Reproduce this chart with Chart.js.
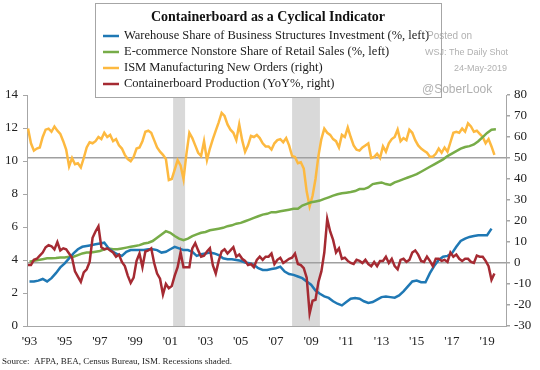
<!DOCTYPE html>
<html>
<head>
<meta charset="utf-8">
<script src="https://cdn.jsdelivr.net/npm/chart.js@4.4.1/dist/chart.umd.min.js"></script>
<style>
  html, body { margin: 0; padding: 0; background: #fff; }
  #wrap { width: 540px; height: 370px; }
</style>
</head>
<body>
<div id="wrap"><canvas id="chart" width="540" height="370"></canvas></div>
<script>
// bimonthly series start Dec 1992, quarterly series start Q1 1993
const bimonthlyStart = 1992 + 11 / 12;
const quarterlyStart = 1993;

const ismNewOrders = [64,
  57, 53.5, 54.5, 55, 60, 63.5,
  64, 62.5, 65, 63, 61.5, 58,
  54, 46, 50, 47, 47.5, 45.5,
  50, 55, 57.5, 57, 58, 60,
  59, 62, 60, 61, 58, 59,
  56, 54.5, 51.5, 49.5, 48.5, 50.5,
  54.5, 55, 58, 62.5, 63, 62,
  58.5, 55, 53, 51.5, 49.5, 39.5,
  40, 44.5, 49, 46.5, 40, 52,
  62, 59.5, 56, 52.5, 51, 58,
  49, 54.5, 59, 63, 67, 71.5,
  70, 66, 63.5, 62, 58.5, 66,
  58.5, 53, 56, 60.5, 60, 61,
  59.5, 57, 55.5, 55.5, 54, 57,
  58.5, 59, 57.5, 59.5, 56, 51,
  50.5, 47.5, 48, 45, 34, 27,
  32, 40, 51, 59, 64, 62,
  61, 59, 58, 55, 61, 60,
  64.5, 60, 56, 54, 53.5, 55,
  56, 57, 50, 50.5, 52, 50,
  55.5, 53, 57, 59, 60, 63.5,
  58, 59.5, 58.5, 63.5, 62, 58.5,
  56, 54.5, 53.5, 52.5, 50.6, 50.6,
  52, 54.5, 52.5, 55, 53, 57.5,
  62, 62.5, 62, 64, 62.5, 66.5,
  65, 62.5, 63, 61.5, 60, 57,
  59, 55.5, 51.5];

const containerboardYoY = [-1,
  -1, 1.5, 2, 3.5, 5, 7.5,
  8.5, 8, 6.5, 10, 6, 7,
  6.5, 4.5, 2.5, -4, -6.5, -9,
  -4.5, -3, 0.5, 12, 15, 17.5,
  7.5, 6.5, 7, 6, 5, 3,
  4, 0.5, -1.5, -6, -9.5, -7,
  1, 4.5, -2, 5.5, 6, 7,
  0, -5, -7.5, -15, -10, -12,
  -11, -6, -2, 5, -2, -2,
  -2, 7, 9.5, 6, 3, 3.5,
  5.5, 7, -1, -5, 1, 5.5,
  6.5, 4.5, 6, 7.5, 3, 4,
  2, 1, -1, -0.5, -2, 1.5,
  3, 1.5, 3, 3, 4.5, -0.5,
  1.5, 2.5, 0, 1, 2, 2.5,
  4.5, -0.5, -1, -2.5, -7, -24,
  -18, -17.5, -9, -4, 5, 21,
  15, 11, 5, 7, 2, 2.5,
  1, 0, -0.5, 1.5, 1, 0,
  1.5, -0.5, -1.5, 0.5, -1.5, 1,
  1, 3, 0, 2, -1.5, -3,
  1.5, 2, 0.5, 1.5, 5, 6,
  4, 1, 0.5, 3, 1, -1.5,
  2, 2, 1, 1.5, 0.5, 5,
  3, 4, 2, 1, 2, 2,
  0.5, 0, 3.5, 3, 3, 1,
  -1.5, -8, -5];

const warehouseShare = [
  2.7, 2.7, 2.75, 2.85,
  2.7, 2.9, 3.2, 3.55,
  3.8, 4.1, 4.4, 4.65,
  4.8, 4.85, 4.9, 4.95,
  5.0, 5.05, 4.7, 4.5,
  4.35, 4.25, 4.5, 4.6,
  4.6, 4.6, 4.6, 4.65,
  4.65, 4.6, 4.45, 4.5,
  4.65, 4.8, 4.7, 4.6,
  4.6, 4.5, 4.25, 4.35,
  4.4, 4.45, 4.4, 4.3,
  4.1, 4.05, 4.05, 4.0,
  3.95, 3.85, 3.8, 3.7,
  3.5, 3.4, 3.4, 3.45,
  3.5, 3.6, 3.3, 3.15,
  3.1, 3.0, 2.9, 2.7,
  2.5, 2.15, 1.95, 1.8,
  1.7, 1.5, 1.35, 1.25,
  1.45, 1.65, 1.7, 1.65,
  1.5, 1.4, 1.45, 1.6,
  1.75, 1.78, 1.75, 1.72,
  1.85, 2.1, 2.4, 2.7,
  2.75, 2.65, 2.65, 3.2,
  3.65, 4.0, 4.2, 4.25,
  4.4, 4.8, 5.15, 5.3,
  5.4, 5.45, 5.5, 5.5,
  5.5, 5.9];

const ecommerceShare = [
  3.9, 3.95, 4.0, 4.05,
  4.1, 4.1, 4.12, 4.15,
  4.15, 4.2, 4.2, 4.3,
  4.4, 4.45, 4.45, 4.5,
  4.55, 4.65, 4.7, 4.65,
  4.65, 4.7, 4.75, 4.8,
  4.85, 4.9, 5.0, 5.05,
  5.15, 5.35, 5.55, 5.75,
  5.65, 5.45, 5.3, 5.2,
  5.3, 5.45, 5.55, 5.65,
  5.7, 5.8, 5.85, 5.9,
  5.95, 6.05, 6.1, 6.2,
  6.25, 6.35, 6.45, 6.55,
  6.65, 6.75, 6.8, 6.9,
  6.9, 6.95, 7.0, 7.05,
  7.1, 7.1, 7.3, 7.4,
  7.5, 7.55, 7.6, 7.7,
  7.8, 7.9, 7.98, 8.04,
  8.08, 8.12, 8.18, 8.3,
  8.3, 8.4, 8.6, 8.65,
  8.7, 8.6, 8.55, 8.7,
  8.8, 8.9, 9.0, 9.1,
  9.2, 9.35, 9.5, 9.65,
  9.8, 9.95, 10.1, 10.3,
  10.45, 10.6, 10.75, 10.85,
  10.9, 11.0, 11.2, 11.45,
  11.7, 11.9, 11.92];

const recessionStarts = [2001.16, 2007.92];
const recessionEnds = [2001.84, 2009.5];
const yearTicks = [1993, 1995, 1997, 1999, 2001, 2003, 2005, 2007, 2009, 2011, 2013, 2015, 2017, 2019];

const seriesNames = [
  "Warehouse Share of Business Structures Investment (%, left)",
  "E-commerce Nonstore Share of Retail Sales (%, left)",
  "ISM Manufacturing New Orders (right)",
  "Containerboard Production (YoY%, right)"
];
const seriesColors = ["#1f78b4", "#77ac48", "#fdb940", "#a52a32"];

const serif = '"Liberation Serif", "Times New Roman", serif';
const sans = '"Liberation Sans", Arial, sans-serif';
const axisGray = "#a6a6a6";

function toPoints(values, start, step) {
  return values.map((v, i) => ({ x: start + i * step, y: v }));
}

const background = {
  id: "background",
  beforeDraw(chart) {
    const { ctx, chartArea, scales } = chart;
    ctx.save();
    ctx.fillStyle = "#fff";
    ctx.fillRect(0, 0, chart.width, chart.height);
    ctx.fillStyle = "#d9d9d9";
    recessionStarts.forEach((s, i) => {
      const x0 = scales.x.getPixelForValue(s);
      const x1 = scales.x.getPixelForValue(recessionEnds[i]);
      ctx.fillRect(x0, chartArea.top, x1 - x0, chartArea.bottom - chartArea.top);
    });
    ctx.restore();
  }
};

const annotations = {
  id: "annotations",
  afterDraw(chart) {
    const ctx = chart.ctx;
    ctx.save();
    // legend box
    ctx.fillStyle = "#fff";
    ctx.fillRect(95, 3, 346, 94);
    ctx.strokeStyle = axisGray;
    ctx.lineWidth = 1;
    ctx.strokeRect(95.5, 3.5, 346, 94);

    ctx.fillStyle = "#111";
    ctx.font = "bold 14px " + serif;
    ctx.textAlign = "center";
    ctx.textBaseline = "middle";
    ctx.fillText("Containerboard as a Cyclical Indicator", 268, 17);

    ctx.font = "12.5px " + serif;
    ctx.textAlign = "left";
    seriesNames.forEach((name, i) => {
      const y = 36 + i * 16;
      ctx.strokeStyle = seriesColors[i];
      ctx.lineWidth = 2.5;
      ctx.beginPath();
      ctx.moveTo(103, y);
      ctx.lineTo(119, y);
      ctx.stroke();
      ctx.fillStyle = "#1a1a1a";
      ctx.fillText(name, 124, y);
    });

    // watermark
    ctx.fillStyle = "rgba(150,150,150,0.75)";
    ctx.font = "10px " + sans;
    ctx.fillText("Posted on", 427, 36);
    ctx.font = "9px " + sans;
    ctx.fillText("WSJ: The Daily Shot", 425, 53);
    ctx.fillText("24-May-2019", 454, 69);
    ctx.font = "12px " + sans;
    ctx.fillText("@SoberLook", 422, 90);

    // source
    ctx.fillStyle = "#222";
    ctx.font = "9px " + serif;
    ctx.fillText("Source:  AFPA, BEA, Census Bureau, ISM. Recessions shaded.", 2, 362);
    ctx.restore();
  }
};

new Chart(document.getElementById("chart"), {
  type: "line",
  data: {
    datasets: [
      {
        label: seriesNames[3],
        data: toPoints(containerboardYoY, bimonthlyStart, 1 / 6),
        yAxisID: "yRight",
        borderColor: seriesColors[3],
        order: 0
      },
      {
        label: seriesNames[0],
        data: toPoints(warehouseShare, quarterlyStart, 1 / 4),
        yAxisID: "yLeft",
        borderColor: seriesColors[0],
        order: 1
      },
      {
        label: seriesNames[1],
        data: toPoints(ecommerceShare, quarterlyStart, 1 / 4),
        yAxisID: "yLeft",
        borderColor: seriesColors[1],
        order: 2
      },
      {
        label: seriesNames[2],
        data: toPoints(ismNewOrders, bimonthlyStart, 1 / 6),
        yAxisID: "yRight",
        borderColor: seriesColors[2],
        order: 3
      }
    ]
  },
  options: {
    responsive: false,
    animation: false,
    devicePixelRatio: 1,
    layout: { padding: { top: 95, left: 0, right: 0, bottom: 0 } },
    elements: {
      line: { borderWidth: 2.5, tension: 0 },
      point: { radius: 0 }
    },
    plugins: {
      legend: { display: false },
      tooltip: { enabled: false }
    },
    scales: {
      x: {
        type: "linear",
        min: 1992.858,
        max: 2020.074,
        afterFit: s => { s.height = 44; },
        afterBuildTicks: s => { s.ticks = yearTicks.map(v => ({ value: v })); },
        grid: { display: false, drawTicks: false },
        border: { color: axisGray, width: 1 },
        ticks: {
          padding: 8,
          maxRotation: 0,
          autoSkip: false,
          color: "#222",
          font: { family: serif, size: 13 },
          callback: v => "'" + String(v).slice(2)
        }
      },
      yLeft: {
        position: "left",
        min: 0,
        max: 14,
        afterFit: s => { s.width = 27; },
        grid: { drawOnChartArea: false, tickLength: 4, tickColor: axisGray },
        border: { color: axisGray, width: 1 },
        ticks: { stepSize: 2, padding: 5, color: "#222", font: { family: serif, size: 13 } }
      },
      yRight: {
        position: "right",
        min: -30,
        max: 80,
        afterFit: s => { s.width = 34; },
        grid: {
          drawOnChartArea: true,
          tickLength: 4,
          tickColor: axisGray,
          lineWidth: 1.5,
          color: c => (c.tick && (c.tick.value === 0 || c.tick.value === 50)) ? "#a0a0a0" : "rgba(0,0,0,0)"
        },
        border: { color: axisGray, width: 1 },
        ticks: { stepSize: 10, padding: 4, color: "#222", font: { family: serif, size: 13 } }
      }
    }
  },
  plugins: [background, annotations]
});
</script>
</body>
</html>
